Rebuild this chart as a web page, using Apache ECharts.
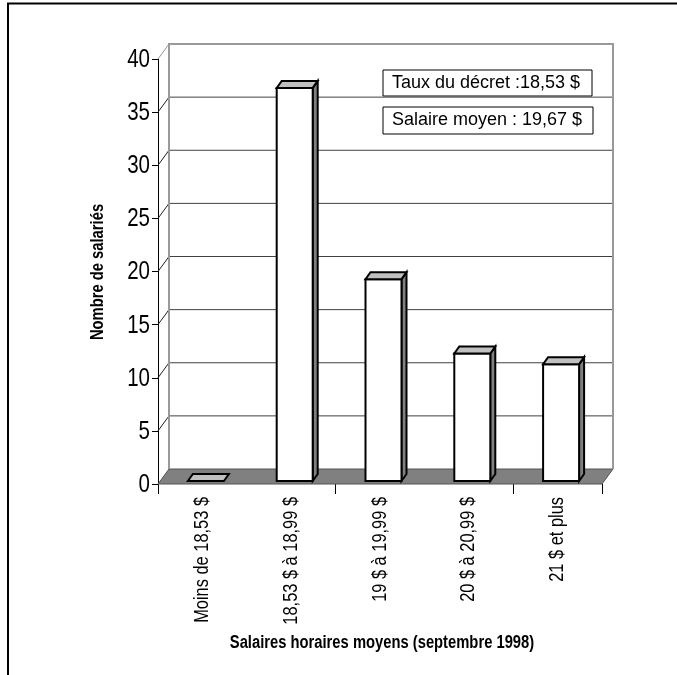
<!DOCTYPE html>
<html><head><meta charset="utf-8">
<script src="https://cdn.jsdelivr.net/npm/echarts@6/dist/echarts.min.js"></script>
<style>html,body{margin:0;padding:0;background:#fff}#c{width:677px;height:675px}</style>
</head><body><div id="c"></div>
<script>
var categories = ['Moins de 18,53 $', '18,53 $ à 18,99 $', '19 $ à 19,99 $', '20 $ à 20,99 $', '21 $ et plus'];
var values = [0, 37, 19, 12, 11];
var yTicks = [0, 5, 10, 15, 20, 25, 30, 35, 40];
var notes = ['Taux du décret :18,53 $', 'Salaire moyen : 19,67 $'];
var yName = 'Nombre de salariés';
var xName = 'Salaires horaires moyens (septembre 1998)';

var SANS = '"Liberation Sans", Arial, sans-serif';
var NARROW_SCALE = 0.82;   // Arial Narrow look from Liberation Sans
var WDX = 11, WDY = 15;    // wall depth offset
var BDX = 5, BDY = 7;      // bar depth offset
var BW = 36;

var chart = echarts.init(document.getElementById('c'), null, {renderer: 'canvas'});

function wallItem(params, api) {
  var cs = params.coordSys;
  var x0 = cs.x, x1 = cs.x + cs.width;
  var v = api.value(0);
  var y = api.coord([0, v])[1];
  var children = [];
  var isTop = params.dataIndex === yTicks.length - 1;
  if (params.dataIndex === 0) {
    children.push({type: 'polygon', shape: {points: [[x0, y], [x1, y], [x1 + WDX, y - WDY], [x0 + WDX, y - WDY]]},
      style: {fill: '#808080', stroke: '#555', lineWidth: 1}, z2: 1});
    var yt = api.coord([0, yTicks[yTicks.length - 1]])[1];
    children.push({type: 'polyline', shape: {points: [[x0 + WDX, y - WDY], [x0 + WDX, yt - WDY], [x1 + WDX, yt - WDY], [x1 + WDX, y - WDY]]},
      style: {fill: null, stroke: '#999', lineWidth: 2}, z2: 3});
  } else {
    if (!isTop) {
      children.push({type: 'line', shape: {x1: x0 + WDX, y1: y - WDY, x2: x1 + WDX, y2: y - WDY},
        style: {stroke: '#404040', lineWidth: 1}, z2: 2});
    }
    children.push({type: 'line', shape: {x1: x0, y1: y, x2: x0 + WDX, y2: y - WDY},
      style: {stroke: isTop ? '#999' : '#202020', lineWidth: 1}, z2: 2});
  }
  // tick label
  children.push({type: 'text', x: x0 - 8, y: y + 1, scaleX: NARROW_SCALE, z2: 4,
    style: {text: String(v), font: '25px ' + SANS, fill: '#000', align: 'right', verticalAlign: 'middle'}});
  return {type: 'group', children: children};
}

function barItem(params, api) {
  var i = api.value(0), v = api.value(1);
  var base = api.coord([i, 0]);
  var top = api.coord([i, v]);
  var cx = base[0] + 3.5;
  var yb = base[1] - 3, yt = top[1] - 3;
  var xl = cx - BW / 2, xr = cx + BW / 2;
  var st = {stroke: '#000', lineWidth: 2, lineJoin: 'miter'};
  var children = [];
  if (yb - yt > 0.5) {
    children.push({type: 'polygon', shape: {points: [[xr, yt], [xr + BDX, yt - BDY], [xr + BDX, yb - BDY], [xr, yb]]},
      style: Object.assign({fill: '#808080'}, st)});
    children.push({type: 'rect', shape: {x: xl, y: yt, width: BW, height: yb - yt},
      style: Object.assign({fill: '#fff'}, st)});
  }
  children.push({type: 'polygon', shape: {points: [[xl, yt], [xr, yt], [xr + BDX, yt - BDY], [xl + BDX, yt - BDY]]},
    style: Object.assign({fill: '#c0c0c0'}, st)});
  // category label (rotated, narrow)
  children.push({type: 'text', x: base[0], y: base[1] + 13, rotation: Math.PI / 2, scaleX: NARROW_SCALE,
    style: {text: categories[i], font: '20px ' + SANS, fill: '#000', align: 'right', verticalAlign: 'middle'}});
  return {type: 'group', children: children};
}

var option = {
  animation: false,
  backgroundColor: '#fff',
  grid: {left: 158, right: 75, top: 59, bottom: 191, containLabel: false},
  xAxis: {
    type: 'category', data: categories, boundaryGap: true,
    axisLine: {show: false},
    axisTick: {show: true, length: 10, lineStyle: {color: '#000', width: 1}},
    axisLabel: {show: false}
  },
  yAxis: {
    type: 'value', min: 0, max: 40, interval: 5,
    axisLine: {show: true, lineStyle: {color: '#000', width: 1}},
    axisTick: {show: true, length: 6, lineStyle: {color: '#000'}},
    axisLabel: {show: false},
    splitLine: {show: false}
  },
  series: [
    {type: 'custom', renderItem: wallItem, data: yTicks.map(function (t) { return [t]; }),
      encode: {y: 0}, silent: true, z: 1, clip: false},
    {type: 'custom', renderItem: barItem, data: values.map(function (v, i) { return [i, v]; }),
      encode: {x: 0, y: 1}, z: 5, clip: false}
  ],
  graphic: [
    {type: 'line', shape: {x1: 7, y1: 3.5, x2: 677, y2: 3.5}, style: {stroke: '#000', lineWidth: 2}},
    {type: 'line', shape: {x1: 8, y1: 3, x2: 8, y2: 675}, style: {stroke: '#000', lineWidth: 2}},
    {type: 'text', x: 98, y: 272, rotation: Math.PI / 2, scaleX: NARROW_SCALE,
      style: {text: yName, font: 'bold 18px ' + SANS, fill: '#000', align: 'center', verticalAlign: 'middle'}},
    {type: 'text', x: 382, y: 643, scaleX: NARROW_SCALE,
      style: {text: xName, font: 'bold 18px ' + SANS, fill: '#000', align: 'center', verticalAlign: 'middle'}},
    {type: 'group', x: 383, y: 70, children: [
      {type: 'rect', shape: {x: 0, y: 0, width: 209, height: 26}, style: {fill: '#fff', stroke: '#000', lineWidth: 1}},
      {type: 'text', x: 9, y: 13, style: {text: notes[0], font: '18px ' + SANS, fill: '#000', verticalAlign: 'middle'}}
    ], z: 10},
    {type: 'group', x: 383, y: 107, children: [
      {type: 'rect', shape: {x: 0, y: 0, width: 210, height: 27}, style: {fill: '#fff', stroke: '#000', lineWidth: 1}},
      {type: 'text', x: 9, y: 13.5, style: {text: notes[1], font: '18px ' + SANS, fill: '#000', verticalAlign: 'middle'}}
    ], z: 10}
  ]
};
chart.setOption(option);
</script></body></html>
